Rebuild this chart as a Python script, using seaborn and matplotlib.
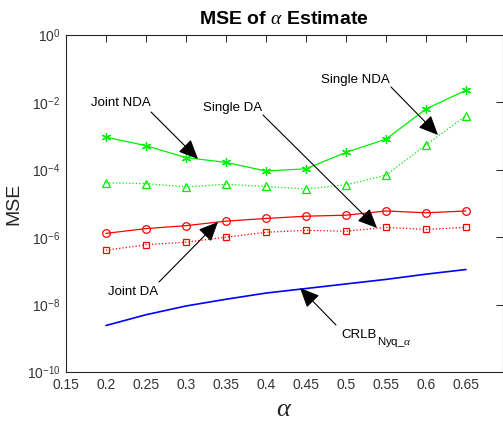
import numpy as np
import pandas as pd
import matplotlib
matplotlib.use("Agg")
import matplotlib.pyplot as plt
import seaborn as sns

# ---- data ----
alpha = [0.2, 0.25, 0.3, 0.35, 0.4, 0.45, 0.5, 0.55, 0.6, 0.65]
joint_nda = [9.3e-4, 5.2e-4, 2.3e-4, 1.66e-4, 9.2e-5, 1.07e-4, 3.3e-4, 8.1e-4, 6.4e-3, 2.3e-2]
single_nda = [4.1e-5, 3.9e-5, 3.1e-5, 3.7e-5, 3.2e-5, 2.7e-5, 3.6e-5, 6.9e-5, 5.5e-4, 4.0e-3]
joint_da = [1.3e-6, 1.8e-6, 2.2e-6, 3.0e-6, 3.6e-6, 4.2e-6, 4.5e-6, 6.0e-6, 5.3e-6, 6.0e-6]
single_da = [4.1e-7, 6.0e-7, 7.1e-7, 1.0e-6, 1.4e-6, 1.6e-6, 1.5e-6, 1.96e-6, 1.7e-6, 1.96e-6]
crlb = [2.4e-9, 5.0e-9, 9.1e-9, 1.44e-8, 2.2e-8, 3.0e-8, 4.1e-8, 5.6e-8, 8.0e-8, 1.1e-7]

xticks = [0.15, 0.2, 0.25, 0.3, 0.35, 0.4, 0.45, 0.5, 0.55, 0.6, 0.65]
xticklabels = ["0.15", "0.2", "0.25", "0.3", "0.35", "0.4", "0.45", "0.5", "0.55", "0.6", "0.65"]
yticks = [1e-10, 1e-8, 1e-6, 1e-4, 1e-2, 1e0]
yticklabels = [r"$10^{-10}$", r"$10^{-8}$", r"$10^{-6}$", r"$10^{-4}$", r"$10^{-2}$", r"$10^{0}$"]

sns.set_theme(style="white")
plt.rcParams["font.family"] = ["Liberation Sans", "DejaVu Sans"]
plt.rcParams["mathtext.fontset"] = "custom"
plt.rcParams["mathtext.rm"] = "Liberation Sans"
plt.rcParams["mathtext.it"] = "Liberation Serif:italic"
plt.rcParams["mathtext.bf"] = "Liberation Sans:bold"

fig = plt.figure(figsize=(5.03, 4.24), dpi=100)
ax = fig.add_axes([66 / 503, 1 - 372 / 424, (502.5 - 66) / 503, (372 - 35) / 424])

GREEN = "#00ee00"
RED = "#ff0000"
BLUE = "#0000ff"

series = [
    (joint_nda, GREEN, "-", (6, 2, 0), 6.5, "Joint NDA"),
    (single_nda, GREEN, ":", "^", 6, "Single NDA"),
    (joint_da, RED, "-", "o", 5.5, "Joint DA"),
    (single_da, RED, ":", "s", 4.5, "Single DA"),
]
for vals, col, ls, mk, ms, name in series:
    df = pd.DataFrame({"alpha": alpha, "mse": vals})
    sns.lineplot(data=df, x="alpha", y="mse", ax=ax, color=col, linestyle=ls,
                 marker=mk, markersize=ms, markerfacecolor="none",
                 markeredgecolor=col, markeredgewidth=0.9, linewidth=0.9)

df = pd.DataFrame({"alpha": alpha, "mse": crlb})
sns.lineplot(data=df, x="alpha", y="mse", ax=ax, color=BLUE, linewidth=1.2)

ax.set_yscale("log")
ax.set_xlim(0.15, 0.15 + (502.5 - 66) / 800)
ax.set_ylim(1e-10, 1e0)
ax.set_xticks(xticks)
ax.set_xticklabels(xticklabels)
ax.set_yticks(yticks)
ax.set_yticklabels(yticklabels)
ax.yaxis.set_minor_locator(matplotlib.ticker.NullLocator())

tc = "#262626"
for s in ax.spines.values():
    s.set_color(tc)
    s.set_linewidth(0.8)
ax.tick_params(axis="both", which="major", direction="in", length=5, width=0.7,
               top=True, right=True, colors=tc, labelsize=10, pad=4)
ax.tick_params(axis="both", labelcolor="#333333")

ax.set_title(r"MSE of $\alpha$ Estimate", fontsize=14, fontweight="bold", color="black", pad=8)
ax.set_ylabel("MSE", fontsize=14, color="#262626")
ax.yaxis.label.set_va("center")
ax.yaxis.set_label_coords((14 - 66) / 436.5, 0.5)
ax.set_xlabel(r"$\alpha$", fontsize=19, color="#262626")
ax.xaxis.set_label_coords(0.5, -0.11)
ax.xaxis.label.set_va("center")


def px(xp, yp):
    x = 0.15 + (xp - 66) / 800
    y = 10 ** (-(yp - 35) / 33.7)
    return (x, y)


aprops = dict(arrowstyle="-|>,head_length=1.0,head_width=0.45", color="black",
              lw=0.8, shrinkA=0, shrinkB=0)
ann = [
    ("Joint NDA", (121, 103), (151, 112), (198, 159)),
    ("Single DA", (233, 108), (263, 115), (377, 228)),
    ("Single NDA", (355, 80), (391, 87), (438, 135)),
    ("Joint DA", (133, 292), (159, 282), (218, 222)),
]
for txt, tpos, start, tip in ann:
    ax.text(*px(*tpos), txt, fontsize=9.5, ha="center", va="center", color="black")
    ax.annotate("", xy=px(*tip), xytext=px(*start), arrowprops=aprops)

# CRLB label with subscript
ax.text(*px(341, 334.5), "CRLB", fontsize=9.5, ha="left", va="center", color="black")
ax.text(*px(377, 342), r"Nyq_$\alpha$", fontsize=8.2, ha="left", va="center", color="black")
ax.annotate("", xy=px(300, 288), xytext=px(336, 325), arrowprops=aprops)

fig.savefig("out.png", dpi=100)
